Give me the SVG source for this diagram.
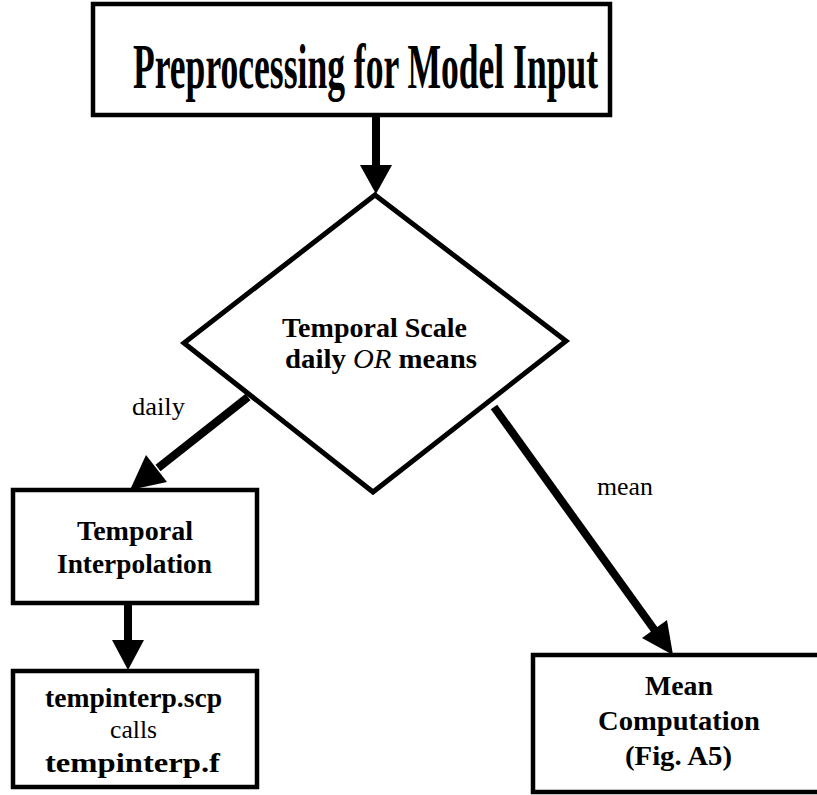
<svg xmlns="http://www.w3.org/2000/svg" width="817" height="795" viewBox="0 0 817 795">
<style>
  .box { fill: #fff; stroke: #000; stroke-width: 4.5; }
  .dia { fill: #fff; stroke: #000; stroke-width: 5; stroke-linejoin: miter; }
  .shaft { stroke: #000; stroke-width: 8; fill: none; }
  .head { fill: #000; stroke: none; }
  .b { font-family: "Liberation Serif", "Times New Roman", serif; font-weight: bold; fill: #000; }
  .r { font-family: "Liberation Serif", "Times New Roman", serif; font-weight: normal; fill: #000; }
</style>
<rect width="817" height="795" fill="#fff"/>

<g id="preprocessing">
  <rect class="box" x="93" y="4" width="517" height="111"/>
  <text class="b" transform="translate(133,88) scale(0.553,1)" x="0" y="0" font-size="64" textLength="841" lengthAdjust="spacingAndGlyphs">Preprocessing for Model Input</text>
</g>

<g id="temporal-scale">
  <polygon class="dia" points="375,195 566,341 373,492 184,343"/>
  <text class="b" x="282" y="337" font-size="28" textLength="185" lengthAdjust="spacingAndGlyphs">Temporal Scale</text>
  <text class="b" x="285" y="368" font-size="28" textLength="192" lengthAdjust="spacingAndGlyphs">daily <tspan font-style="italic" font-weight="normal">OR</tspan>  means</text>
</g>

<g id="temporal-interpolation">
  <rect class="box" x="13" y="490" width="244" height="113"/>
  <text class="b" x="77" y="540" font-size="27" textLength="116" lengthAdjust="spacingAndGlyphs">Temporal</text>
  <text class="b" x="57" y="573" font-size="27" textLength="155" lengthAdjust="spacingAndGlyphs">Interpolation</text>
</g>

<g id="tempinterp">
  <rect class="box" x="13" y="671" width="244" height="116"/>
  <text class="b" x="45" y="707" font-size="27" textLength="177" lengthAdjust="spacingAndGlyphs">tempinterp.scp</text>
  <text class="r" x="110" y="738" font-size="26" textLength="47" lengthAdjust="spacingAndGlyphs">calls</text>
  <text class="b" x="45" y="772" font-size="27" textLength="175" lengthAdjust="spacingAndGlyphs">tempinterp.f</text>
</g>

<g id="mean-computation">
  <rect class="box" x="533" y="655" width="300" height="137"/>
  <text class="b" x="645" y="695" font-size="28" textLength="68" lengthAdjust="spacingAndGlyphs">Mean</text>
  <text class="b" x="598" y="730" font-size="28" textLength="162" lengthAdjust="spacingAndGlyphs">Computation</text>
  <text class="b" x="625" y="765" font-size="28" textLength="107" lengthAdjust="spacingAndGlyphs">(Fig. A5)</text>
</g>

<g id="connectors">
  <line class="shaft" x1="376" y1="115" x2="376" y2="168"/>
  <polygon class="head" points="360,165 392,165 376,194"/>

  <line class="shaft" x1="248" y1="397" x2="158" y2="468"/>
  <polygon class="head" points="167,482 146,455 130,490"/>
  <text class="r" x="132" y="415" font-size="26" textLength="53" lengthAdjust="spacingAndGlyphs">daily</text>

  <line class="shaft" x1="128" y1="603" x2="128" y2="645"/>
  <polygon class="head" points="112,640 144,640 128,670"/>

  <line class="shaft" x1="494" y1="407" x2="656" y2="632"/>
  <polygon class="head" points="667,620 642,638 673,655"/>
  <text class="r" x="597" y="495" font-size="26" textLength="56" lengthAdjust="spacingAndGlyphs">mean</text>
</g>
</svg>
